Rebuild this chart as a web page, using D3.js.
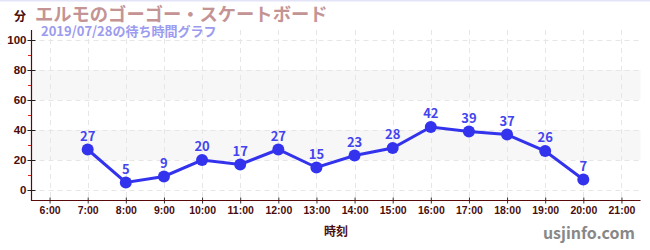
<!DOCTYPE html>
<html><head><meta charset="utf-8">
<script src="https://cdn.jsdelivr.net/npm/d3@7"></script>
<style>
body{margin:0;background:#fff;}
svg{display:block;font-family:"Noto Sans CJK JP","Noto Sans",sans-serif;}
</style></head>
<body><svg id="c" width="650" height="250"></svg>
<script>
const hours = [7,8,9,10,11,12,13,14,15,16,17,18,19,20];
const waits = [27,5,9,20,17,27,15,23,28,42,39,37,26,7];
const xTicks = [6,7,8,9,10,11,12,13,14,15,16,17,18,19,20,21];
const yTicks = [0,20,40,60,80,100];
const yMinor = [10,30,50,70,90];
const bands = [[20,40],[60,80]];
const title = "エルモのゴーゴー・スケートボード";
const subtitle = "2019/07/28の待ち時間グラフ";

const svg = d3.select("#c");
const x = d3.scaleLinear().domain([5.5,21.5]).range([30.5,640.5]);
const y = d3.scaleLinear().domain([-20/3, 320/3]).range([200,30]);

svg.append("rect").attr("x",0).attr("y",0).attr("width",650).attr("height",1.5).attr("fill","#e4e4f8");

// bands
svg.selectAll(".band").data(bands).enter().append("rect")
  .attr("x",x(5.5)).attr("width",x(21.5)-x(5.5))
  .attr("y",d=>y(d[1])).attr("height",d=>y(d[0])-y(d[1]))
  .attr("fill","#f7f7f7");

// grid
svg.selectAll(".hg").data(yTicks).enter().append("line")
  .attr("x1",x(5.5)).attr("x2",x(21.5))
  .attr("y1",d=>Math.round(y(d))+0.5).attr("y2",d=>Math.round(y(d))+0.5)
  .attr("stroke","#e6e6e6").attr("stroke-dasharray","5,4");
svg.selectAll(".vg").data(xTicks).enter().append("line")
  .attr("x1",d=>Math.round(x(d))+0.5).attr("x2",d=>Math.round(x(d))+0.5)
  .attr("y1",30).attr("y2",200)
  .attr("stroke","#e6e6e6").attr("stroke-dasharray","5,4");

// y axis
const yAxis = d3.axisLeft(y).tickValues(yTicks).tickSize(4).tickPadding(3);
const gy = svg.append("g").attr("transform","translate(31.5,0)").call(yAxis);
gy.select(".domain").remove();
gy.selectAll(".tick line").attr("stroke","#222").attr("x2",4).attr("x1",-4);
gy.selectAll("text").attr("fill","#4a0d0d").attr("font-size",11.5).attr("font-weight","bold").attr("x",-5);
svg.append("line").attr("x1",31.5).attr("x2",31.5).attr("y1",30).attr("y2",201).attr("stroke","#5a0a0a").attr("stroke-width",1.2);
svg.selectAll(".ym").data(yMinor).enter().append("line")
  .attr("x1",28).attr("x2",31).attr("y1",d=>Math.round(y(d))+0.5).attr("y2",d=>Math.round(y(d))+0.5)
  .attr("stroke","#e02020");

// x axis
const xAxis = d3.axisBottom(x).tickValues(xTicks).tickSize(4).tickPadding(2).tickFormat(d=>d+":00");
const gx = svg.append("g").attr("transform","translate(0,200.5)").call(xAxis);
gx.select(".domain").remove();
gx.selectAll(".tick line").attr("stroke","#333").attr("y1",-3).attr("y2",3);
gx.selectAll("text").attr("fill","#4a0d0d").attr("font-size",10.5).attr("font-weight","bold").attr("dy","0.71em");
svg.append("line").attr("x1",31).attr("x2",x(21.5)).attr("y1",200.5).attr("y2",200.5).attr("stroke","#5a0a0a").attr("stroke-width",1.2);

// line
const line = d3.line().x((d,i)=>x(hours[i])).y(d=>y(d));
svg.append("path").datum(waits).attr("d",line).attr("fill","none")
  .attr("stroke","#3333ee").attr("stroke-width",3);
svg.selectAll(".pt").data(waits).enter().append("circle")
  .attr("cx",(d,i)=>x(hours[i])).attr("cy",d=>y(d)).attr("r",6).attr("fill","#3333ee");
svg.selectAll(".lb").data(waits).enter().append("text")
  .attr("x",(d,i)=>x(hours[i])).attr("y",d=>y(d)-9)
  .attr("text-anchor","middle").attr("fill","#4444ee").attr("font-size",13).attr("font-weight","bold")
  .text(d=>d);

// texts
svg.append("text").attr("x",35).attr("y",21).attr("fill","#c49494").attr("font-size",18.3).attr("font-weight","bold").text(title);
svg.append("text").attr("x",41).attr("y",36).attr("fill","#9b9bf0").attr("font-size",13).attr("font-weight","bold").text(subtitle);
svg.append("text").attr("x",14).attr("y",21).attr("fill","#4a0d0d").attr("font-size",12).attr("font-weight","bold").text("分");
svg.append("text").attr("x",336).attr("y",236).attr("text-anchor","middle").attr("fill","#4a0d0d").attr("font-size",12).attr("font-weight","bold").text("時刻");
svg.append("text").attr("x",635).attr("y",239).attr("text-anchor","end").attr("fill","#888").attr("font-size",16).attr("font-weight","bold").text("usjinfo.com");
</script></body></html>
